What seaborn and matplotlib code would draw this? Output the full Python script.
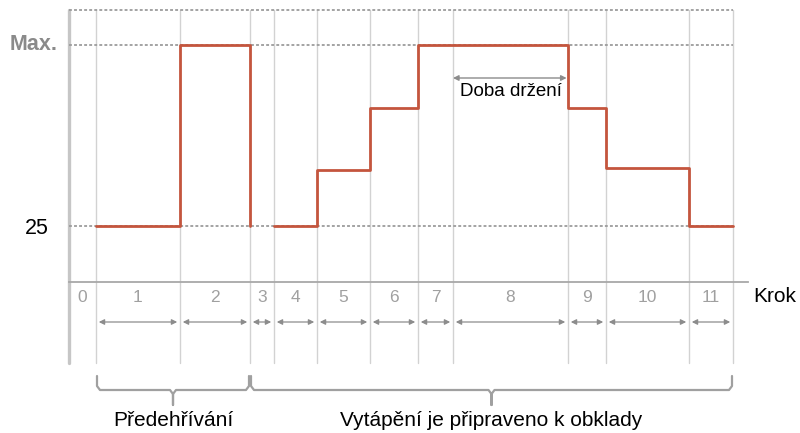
import numpy as np
import pandas as pd
import matplotlib
matplotlib.use("Agg")
import matplotlib.pyplot as plt
from matplotlib.transforms import blended_transform_factory
import seaborn as sns

# Program steps and their durations (arbitrary time units)
step_labels = ["0", "1", "2", "3", "4", "5", "6", "7", "8", "9", "10", "11"]
step_durations = [27, 84, 70, 24, 43, 53, 48, 35, 115, 38, 83, 44]

# Setpoint of each step (None = heating off); MAX_TEMP is shown as "Max."
MAX_TEMP = 100
BASE_TEMP = 25
step_levels = [None, 25, MAX_TEMP, None, 25, 48, 74, MAX_TEMP, MAX_TEMP, 74, 49, 25]

ytick_values = [BASE_TEMP, MAX_TEMP]
ytick_labels = ["25", "Max."]
hold_step = 8
hold_label = "Doba držení"
x_label = "Krok"
phase_labels = ["Předehřívání", "Vytápění je připraveno k obklady"]
phase_steps = [(1, 2), (3, 11)]

# ---------------------------------------------------------------------------
sns.set_style("white")
plt.rcParams["font.family"] = ["Liberation Sans", "DejaVu Sans"]

W, H = 800, 433
fig = plt.figure(figsize=(W / 100, H / 100), dpi=100)
ax = fig.add_axes([69 / W, (H - 282) / H, (748 - 69) / W, (282 - 8) / H])


def fy(px):
    """Figure fraction for a vertical pixel position measured from the top."""
    return 1 - px / H


def fx(px):
    return px / W


bounds = np.concatenate([[0], np.cumsum(step_durations)])

# Step profile as a piecewise-constant path, broken where heating is off
rows = []
seg = 0
for i, lvl in enumerate(step_levels):
    if lvl is None:
        if rows and rows[-1]["segment"] == seg:
            rows.append(dict(t=bounds[i], temp=BASE_TEMP, segment=seg))
            seg += 1
        continue
    rows.append(dict(t=bounds[i], temp=lvl, segment=seg))
    rows.append(dict(t=bounds[i + 1], temp=lvl, segment=seg))
profile = pd.DataFrame(rows)

ax.set_xlim(0, 679)
ylo = BASE_TEMP - 56 * (MAX_TEMP - BASE_TEMP) / 181
yhi = BASE_TEMP + 218 * (MAX_TEMP - BASE_TEMP) / 181
ytop_line = BASE_TEMP + 216 * (MAX_TEMP - BASE_TEMP) / 181
ax.set_ylim(ylo, yhi)

# Dotted reference lines (top border, Max., 25)
ax.hlines([BASE_TEMP, MAX_TEMP, ytop_line], 0, bounds[-1], colors="#9c9c9c",
          linestyles=(0, (1.6, 1.2)), lw=1.3, zorder=1)

sns.lineplot(data=profile, x="t", y="temp", units="segment", estimator=None,
             sort=False, color="#c4553d", lw=2.0, ax=ax, zorder=3, legend=False)

tx = blended_transform_factory(ax.transData, fig.transFigure)

# Vertical step boundaries running down through the step scale
for b in bounds[1:]:
    ax.plot([b, b], [fy(10), fy(363)], transform=tx, color="#d2d2d2", lw=1.0,
            clip_on=False, zorder=0)
ax.plot([0, 0], [fy(10), fy(363)], transform=tx, color="#c6c6c6", lw=2.4,
        clip_on=False, zorder=0)

# Axes frame: only the step axis line is shown
for side in ["top", "right", "left"]:
    ax.spines[side].set_visible(False)
ax.spines["bottom"].set_color("#a8a8a8")
ax.spines["bottom"].set_linewidth(1.3)
ax.set_xticks([])
ax.set_yticks([])
ax.set_xlabel("")
ax.set_ylabel("")

# Y labels
ty = blended_transform_factory(fig.transFigure, ax.transData)
for v, lab in zip(ytick_values, ytick_labels):
    if lab == "Max.":
        ax.text(fx(58), v, lab, transform=ty, ha="right", va="center",
                fontsize=15.5, color="#8a8a8a", fontweight="semibold")
    else:
        ax.text(fx(49), v - 1, lab, transform=ty, ha="right", va="center",
                fontsize=15.5, color="black",
                bbox=dict(facecolor="white", edgecolor="none", pad=3))

# Step numbers and duration arrows
for i, lab in enumerate(step_labels):
    c = (bounds[i] + bounds[i + 1]) / 2
    ax.text(c, fy(298), lab, transform=tx, ha="center", va="center",
            fontsize=12.5, color="#a0a0a0")
    if i > 0:
        ax.annotate("", xy=(bounds[i + 1], fy(322)), xytext=(bounds[i], fy(322)),
                    xycoords=tx, textcoords=tx,
                    arrowprops=dict(arrowstyle="<|-|>", color="#8c8c8c", lw=0.9,
                                    mutation_scale=8, shrinkA=2, shrinkB=2),
                    annotation_clip=False)

ax.text(fx(753), fy(297), x_label, transform=fig.transFigure, ha="left",
        va="center", fontsize=15, color="black")

# Hold time marker
hy = BASE_TEMP + 148 * (MAX_TEMP - BASE_TEMP) / 181
ax.annotate("", xy=(bounds[hold_step + 1], hy), xytext=(bounds[hold_step], hy),
            arrowprops=dict(arrowstyle="<|-|>", color="#8c8c8c", lw=1.0,
                            mutation_scale=8, shrinkA=0, shrinkB=1), zorder=2)
ax.text((bounds[hold_step] + bounds[hold_step + 1]) / 2, fy(92), hold_label,
        transform=tx, ha="center", va="center", fontsize=13.5, color="black",
        bbox=dict(facecolor="white", edgecolor="none", pad=2), zorder=4)

# Phase braces
for (a, b), lab in zip(phase_steps, phase_labels):
    x0, x1 = bounds[a] + 1, bounds[b + 1] - 1
    c = (x0 + x1) / 2
    r = 3
    xs = [x0, x0, x0 + r, c - r, c, c, c, c + r, x1 - r, x1, x1]
    ys = [376, 386, 390, 390, 394, 405, 394, 390, 390, 386, 376]
    ax.plot(xs, [fy(v) for v in ys], transform=tx, color="#a0a0a0", lw=1.6,
            clip_on=False, solid_joinstyle="round", solid_capstyle="round")
    ax.text(c, fy(421), lab, transform=tx, ha="center", va="center",
            fontsize=15, color="black")

fig.savefig("out.png", dpi=100, facecolor="white")
